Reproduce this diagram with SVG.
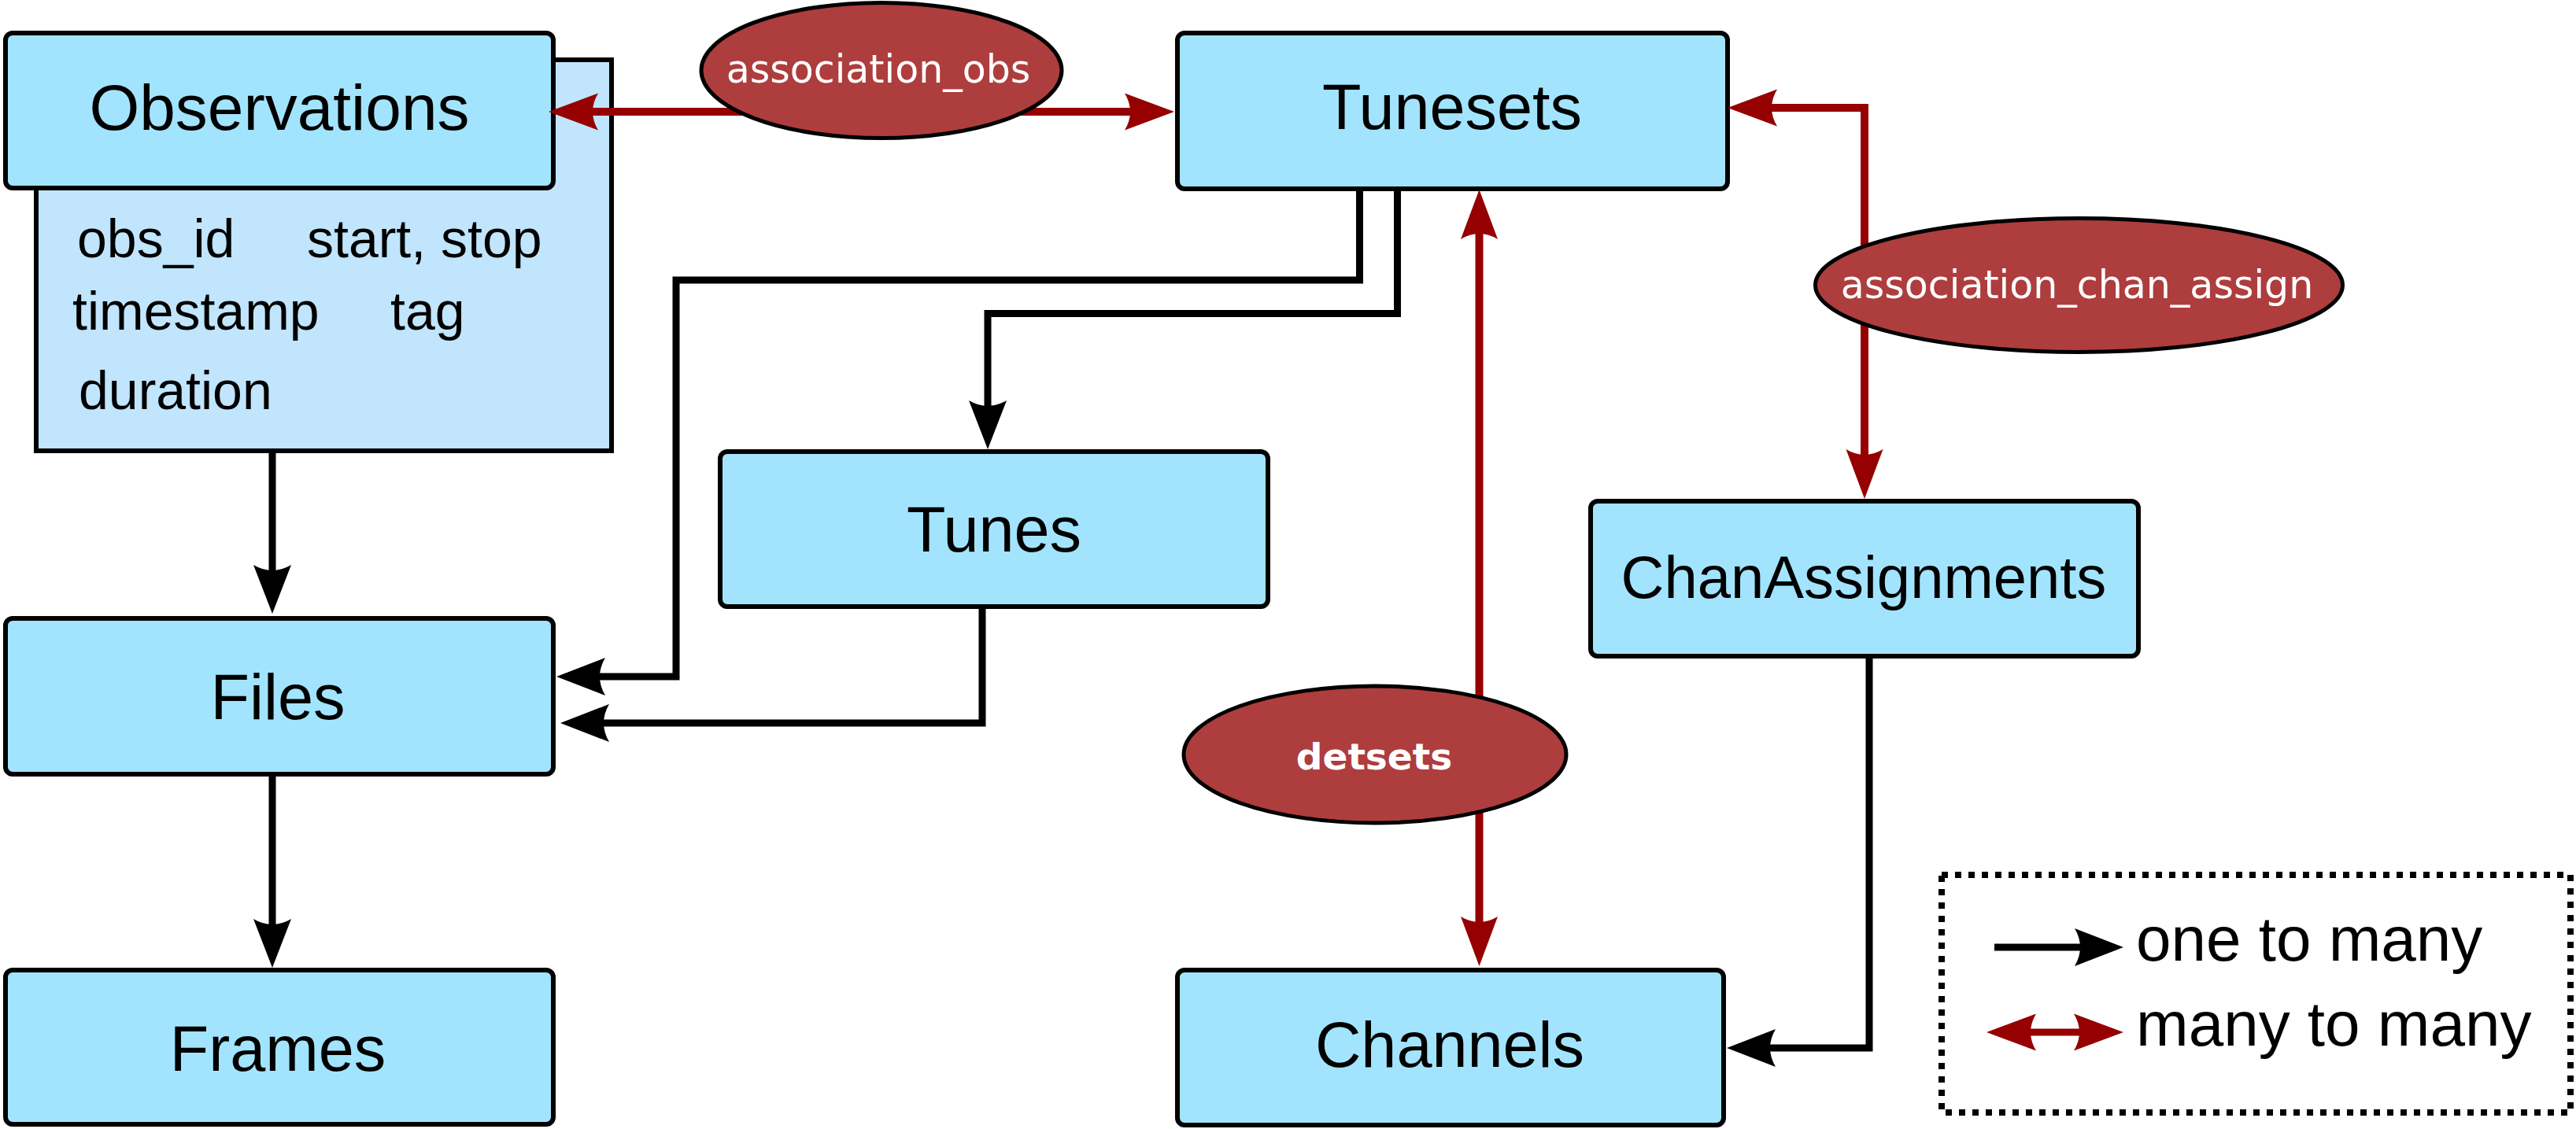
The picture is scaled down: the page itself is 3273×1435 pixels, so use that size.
<svg xmlns="http://www.w3.org/2000/svg" width="3273" height="1435" viewBox="0 0 3273 1435">
<style>
.box{fill:#a2e4fd;stroke:#000;stroke-width:6}
.attr{fill:#c0e5fc;stroke:#000;stroke-width:6}
.lbl{font-family:"Liberation Sans",Arial,sans-serif;font-size:81px;fill:#000;text-anchor:middle}
.att{font-family:"Liberation Sans",Arial,sans-serif;font-size:68px;fill:#000}
.ell{fill:#ae3d3e;stroke:#000;stroke-width:5}
.elbl{font-family:"DejaVu Sans",Verdana,sans-serif;font-size:49px;fill:#fff;text-anchor:middle}
.one{fill:none;stroke:#000;stroke-width:9;stroke-linejoin:miter}
.many{fill:none;stroke:#960000;stroke-width:10;stroke-linejoin:miter}
.leg{font-family:"Liberation Sans",Arial,sans-serif;font-size:80px;fill:#000}
</style>
<defs>
<marker id="hb" markerUnits="userSpaceOnUse" viewBox="-60 -30 80 60" markerWidth="80" markerHeight="60" refX="0" refY="0" orient="auto-start-reverse" overflow="visible">
<path d="M14,0 L-48,-24 Q-34,0 -48,24 Z" fill="#000"/>
</marker>
<marker id="hr" markerUnits="userSpaceOnUse" viewBox="-60 -30 80 60" markerWidth="80" markerHeight="60" refX="0" refY="0" orient="auto-start-reverse" overflow="visible">
<path d="M14,0 L-49,-23.5 Q-35,0 -49,23.5 Z" fill="#960000"/>
</marker>
</defs>
<rect width="3273" height="1435" fill="#fff"/>

<g id="observations">
<rect class="attr" x="46" y="76" width="731" height="497"/>
<rect class="box" x="7" y="42" width="696" height="197" rx="9"/>
<text class="lbl" x="355" y="165" style="font-size:82px">Observations</text>
<text class="att" x="98" y="327">obs_id</text>
<text class="att" x="390" y="327">start, stop</text>
<text class="att" x="92" y="419">timestamp</text>
<text class="att" x="496" y="419">tag</text>
<text class="att" x="100" y="520">duration</text>
</g>
<g id="tunesets">
<rect class="box" x="1496" y="42" width="699" height="198" rx="9"/>
<text class="lbl" x="1845" y="164">Tunesets</text>
</g>
<g id="tunes">
<rect class="box" x="915" y="574" width="696" height="197" rx="9"/>
<text class="lbl" x="1263" y="701">Tunes</text>
</g>
<g id="files">
<rect class="box" x="7" y="786" width="696" height="198" rx="9"/>
<text class="lbl" x="353" y="914">Files</text>
</g>
<g id="frames">
<rect class="box" x="7" y="1233" width="696" height="196" rx="9"/>
<text class="lbl" x="353" y="1361">Frames</text>
</g>
<g id="chanassignments">
<rect class="box" x="2021" y="637" width="696" height="197" rx="9"/>
<text class="lbl" x="2368" y="760" style="font-size:76px">ChanAssignments</text>
</g>
<g id="channels">
<rect class="box" x="1496" y="1233" width="694" height="197" rx="9"/>
<text class="lbl" x="1842" y="1356">Channels</text>
</g>

<g id="connectors">
<path class="one" d="M346,576 V766" marker-end="url(#hb)"/>
<path class="one" d="M346,987 V1216" marker-end="url(#hb)"/>
<path class="one" d="M1727.5,237 V356 H859 V860 H721" marker-end="url(#hb)"/>
<path class="one" d="M1775.5,237 V398.5 H1255 V557" marker-end="url(#hb)"/>
<path class="one" d="M1248,774 V919 H726" marker-end="url(#hb)"/>
<path class="one" d="M2375,837 V1332 H2208" marker-end="url(#hb)"/>
<path class="many" d="M711,142 H1478" marker-start="url(#hr)" marker-end="url(#hr)"/>
<path class="many" d="M2209,137 H2369 V620" marker-start="url(#hr)" marker-end="url(#hr)"/>
<path class="many" d="M1879.5,255 V1214" marker-start="url(#hr)" marker-end="url(#hr)"/>
</g>

<g id="association_obs">
<ellipse class="ell" cx="1120" cy="89.5" rx="229" ry="86"/>
<text class="elbl" x="1116" y="105">association_obs</text>
</g>
<g id="association_chan_assign">
<ellipse class="ell" cx="2641.5" cy="362.5" rx="335" ry="85"/>
<text class="elbl" x="2639" y="379">association_chan_assign</text>
</g>
<g id="detsets">
<ellipse class="ell" cx="1747" cy="959" rx="243" ry="87"/>
<text class="elbl" x="1746" y="978" style="font-weight:bold;font-size:47px">detsets</text>
</g>

<g id="legend">
<rect x="2467" y="1112" width="799" height="302" fill="none" stroke="#000" stroke-width="8" stroke-dasharray="8,9"/>
<path class="one" d="M2534,1204 H2684" marker-end="url(#hb)"/>
<text class="leg" x="2714" y="1221">one to many</text>
<path class="many" d="M2538,1312 H2684" style="stroke-width:9" marker-start="url(#hr)" marker-end="url(#hr)"/>
<text class="leg" x="2714" y="1329">many to many</text>
</g>
</svg>
